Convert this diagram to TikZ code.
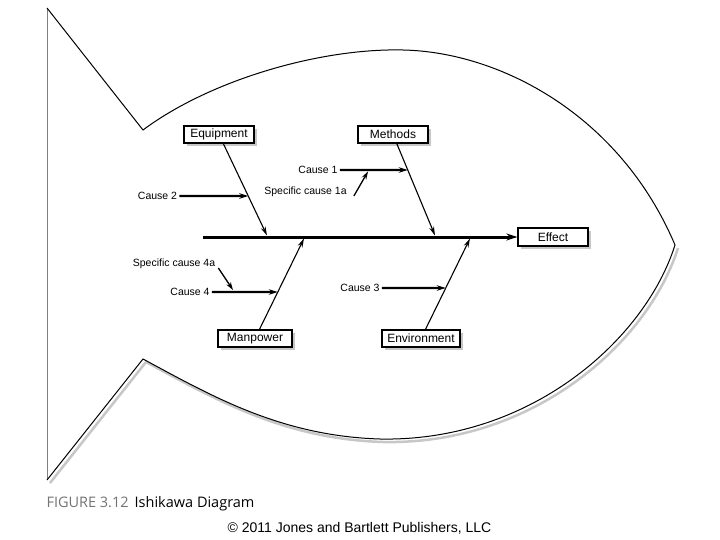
\documentclass[tikz,border=0pt]{standalone}
\usepackage{fontspec}
\setmainfont{Liberation Sans}
\newfontfamily\capfont{Open Sans}
\usepackage{xcolor}
\usepackage{tikz}
\usetikzlibrary{
  arrows.meta,
  positioning,
  shadows,
}

\definecolor{shadowgray}{gray}{0.78}
\definecolor{figgray}{gray}{0.45}

\begin{document}
\begin{tikzpicture}[
  x=1pt, y=-1pt,
  every node/.style={align=center},
  box/.style={draw=black, line width=1.2pt, fill=white,
              minimum width=70pt, minimum height=17pt, inner sep=2pt,
              font=\fontsize{12}{14}\selectfont,
              drop shadow={shadow xshift=3pt, shadow yshift=-3pt,
                           fill=shadowgray, opacity=1}},
  cause/.style={font=\fontsize{10.5}{12}\selectfont, inner sep=2pt},
  bone/.style={-{Stealth[length=9pt,width=5pt]}, line width=1.1pt},
  twig/.style={-{Stealth[length=9pt,width=5.5pt]}, line width=2.2pt},
  subtwig/.style={-{Stealth[length=8pt,width=5pt]}, line width=1.3pt},
  spine/.style={-{Stealth[length=11pt,width=7pt]}, line width=3pt},
]
\useasboundingbox (0,0) rectangle (720,540);

% fish outline
\draw[shadowgray, line width=2.5pt, shift={(3,3)}]
  (675,245) .. controls (645,340) and (530,442) .. (380,439)
  .. controls (280,436) and (210,395) .. (143,359) -- (47,480);
\draw[gray, line width=0.8pt] (47,8) -- (47,480);
\draw[line width=1pt, line join=miter]
  (47,8) -- (143,130) .. controls (210,80) and (320,48) .. (403,50)
  .. controls (500,52) and (620,115) .. (675,245)
  .. controls (645,340) and (530,442) .. (380,439)
  .. controls (280,436) and (210,395) .. (143,359) -- (47,480);

\node[box] (equip)   at (219,134.5) {Equipment};
\node[box] (methods) at (393,134.5) {Methods};
\node[box, minimum width=74pt] (manpower) at (255,338.5) {Manpower};
\node[box, minimum width=78pt] (environ)  at (421,338.5) {Environment};
\node[box, minimum height=18pt] (effect) at (553,237) {Effect};

\coordinate (tail)  at (203,237);
\coordinate (eqend) at (267,235.5);
\coordinate (meend) at (435,235.5);
\coordinate (mpend) at (304,238.5);
\coordinate (enend) at (470,238.5);

\draw[spine] (tail) -- (effect);
\draw[bone] (equip) -- (eqend);
\draw[bone] (methods) -- (meend);
\draw[bone] (manpower) -- (mpend);
\draw[bone] (environ) -- (enend);

\node[cause] (c1)  at (318,170)   {Cause 1};
\node[cause] (c1a) at (305.5,192) {Specific cause 1a};
\node[cause] (c2)  at (157.5,196) {Cause 2};
\node[cause] (c3)  at (360,288)   {Cause 3};
\node[cause] (c4)  at (190,292)   {Cause 4};
\node[cause] (c4a) at (174,264)   {Specific cause 4a};

\coordinate (x1) at (intersection of c1.west--c1.east and methods--meend);
\coordinate (x2) at (intersection of c2.west--c2.east and equip--eqend);
\coordinate (x3) at (intersection of c3.west--c3.east and environ--enend);
\coordinate (x4) at (intersection of c4.west--c4.east and manpower--mpend);
\coordinate (t1a) at (368,171.5);
\coordinate (t4a) at (233,290);

\draw[twig] (c1) -- (x1);
\draw[twig] (c2) -- (x2);
\draw[twig] (c3) -- (x3);
\draw[twig] (c4) -- (x4);
\draw[subtwig] (c1a.east) ++(5,4) -- (t1a);
\draw[subtwig] (c4a.east) ++(1,4) -- (t4a);

\node[anchor=west, font=\capfont\fontsize{14.5}{17}\selectfont] (caption)
  at (43,504) {\textcolor{figgray}{FIGURE 3.12}\hspace{6pt}Ishikawa Diagram};
\node[font=\fontsize{14}{16}\selectfont] (copyright)
  at (359.5,528) {© 2011 Jones and Bartlett Publishers, LLC};

\end{tikzpicture}
\end{document}
